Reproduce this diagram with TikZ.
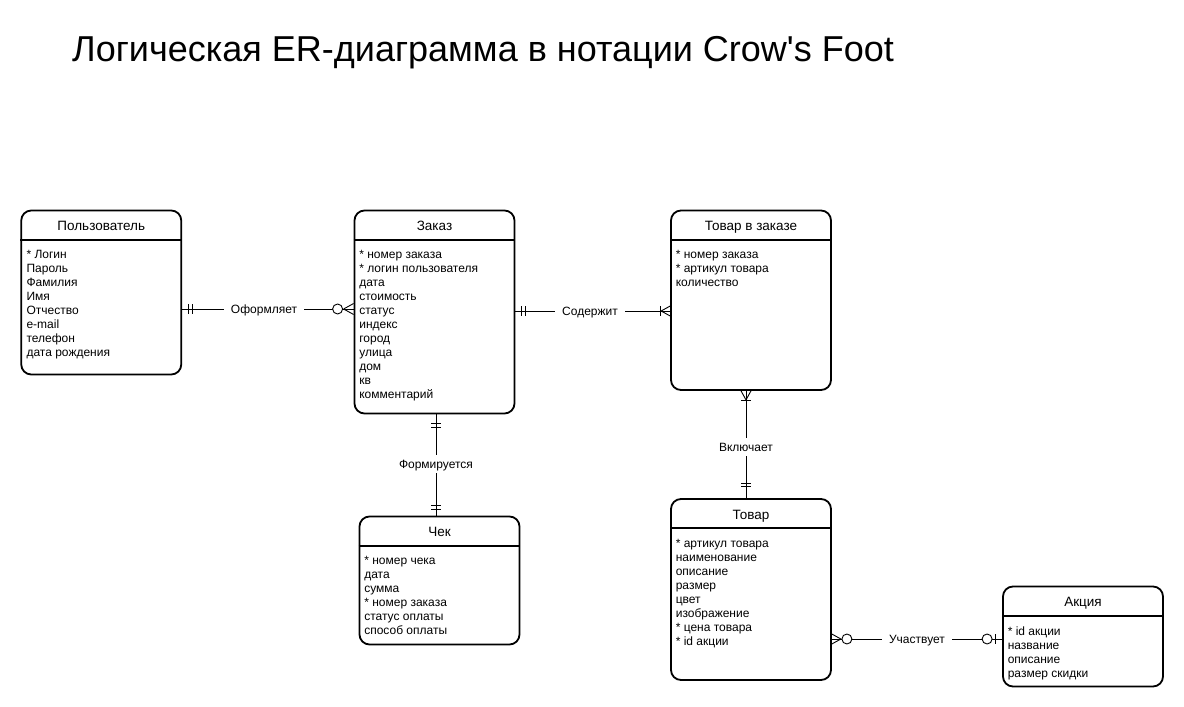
\documentclass[tikz,border=0pt]{standalone}
\usepackage{fontspec}
\setmainfont{Liberation Sans}[Ligatures=TeXOff]
\usetikzlibrary{positioning}

\tikzset{
  entity/.style={draw, line width=1.8pt, rounded corners=10pt, inner sep=0pt, minimum width=160pt},
  enttitle/.style={font=\fontsize{13.5}{16}\selectfont, inner sep=0pt, text height=10pt, text depth=2pt},
  entbody/.style={font=\fontsize{12}{14}\selectfont, align=left, inner sep=0pt, anchor=north west, execute at begin node=\strut},
  headline/.style={line width=1.8pt},
  rel/.style={font=\fontsize{12}{14}\selectfont, inner xsep=7pt, inner ysep=3pt, text height=10.5pt, text depth=1.5pt},
  link/.style={line width=0.9pt},
  bar/.pic={\draw[link] (0,-5) -- (0,5);},
  crow/.pic={\draw[link] (0,0) -- (10,5.5) (0,0) -- (10,-5.5);},
  ring/.pic={\draw[link, fill=white] (0,0) circle (5);}
}

\begin{document}
\begin{tikzpicture}[x=1pt, y=-1pt]
    \useasboundingbox (0,0) rectangle (1184,707);

    \node[anchor=base west, inner sep=0pt, font=\fontsize{36}{40}\selectfont] (title) at (72,61)
        {Логическая ER-диаграмма в нотации Crow's Foot};

    % entities
    \node[entity, minimum height=164pt] (usr) at (101.25,292.5) {};
    \node[entity, minimum height=203pt] (ord) at (434.5,312) {};
    \node[entity, minimum height=179.5pt] (item) at (751,300.25) {};
    \node[entity, minimum height=128pt] (check) at (439.5,580.5) {};
    \node[entity, minimum height=181pt] (prod) at (751,589.5) {};
    \node[entity, minimum height=100pt] (promo) at (1083,636.5) {};

    \foreach \e/\t in {usr/Пользователь, ord/Заказ, item/Товар в заказе,
                       check/Чек, prod/Товар, promo/Акция} {
        \draw[headline] ([yshift=-30pt]\e.north west) -- ([yshift=-30pt]\e.north east);
        \node[enttitle] (\e-title) at ([yshift=-17pt]\e.north) {\t};
    }

    \node[entbody] (usr-body) at ([xshift=6pt,yshift=-40.5pt]usr.north west)
        {* Логин\\Пароль\\Фамилия\\Имя\\Отчество\\e-mail\\телефон\\дата рождения};
    \node[entbody] (ord-body) at ([xshift=5.5pt,yshift=-40.5pt]ord.north west)
        {* номер заказа\\* логин пользователя\\дата\\стоимость\\статус\\индекс\\город\\улица\\дом\\кв\\комментарий};
    \node[entbody] (item-body) at ([xshift=5.5pt,yshift=-40.5pt]item.north west)
        {* номер заказа\\* артикул товара\\количество};
    \node[entbody] (check-body) at ([xshift=5.5pt,yshift=-40.5pt]check.north west)
        {* номер чека\\дата\\сумма\\* номер заказа\\статус оплаты\\способ оплаты};
    \node[entbody] (prod-body) at ([xshift=5.5pt,yshift=-40.5pt]prod.north west)
        {* артикул товара\\наименование\\описание\\размер\\цвет\\изображение\\* цена товара\\* id акции};
    \node[entbody] (promo-body) at ([xshift=5.5pt,yshift=-40.5pt]promo.north west)
        {* id акции\\название\\описание\\размер скидки};

    % relationships
    \node[rel] (r1) at (264,309) {Оформляет};
    \coordinate (r1a) at (usr.east |- r1);
    \coordinate (r1b) at (ord.west |- r1);
    \draw[link] (r1a) -- (r1.west) (r1.east) -- (r1b);
    \pic at ([xshift=6pt]r1a) {bar};
    \pic at ([xshift=10pt]r1a) {bar};
    \pic at ([xshift=-10pt]r1b) {crow};
    \pic at ([xshift=-16pt]r1b) {ring};

    \node[rel] (r2) at (590,311) {Содержит};
    \coordinate (r2a) at (ord.east |- r2);
    \coordinate (r2b) at (item.west |- r2);
    \draw[link] (r2a) -- (r2.west) (r2.east) -- (r2b);
    \pic at ([xshift=6pt]r2a) {bar};
    \pic at ([xshift=10.5pt]r2a) {bar};
    \pic at ([xshift=-9pt]r2b) {crow};
    \pic at ([xshift=-10pt]r2b) {bar};

    \node[rel] (r3) at (436,464) {Формируется};
    \coordinate (r3a) at (ord.south -| r3);
    \coordinate (r3b) at (check.north -| r3);
    \draw[link] (r3a) -- (r3.north) (r3.south) -- (r3b);
    \pic[rotate=90] at ([yshift=-9pt]r3a) {bar};
    \pic[rotate=90] at ([yshift=-13pt]r3a) {bar};
    \pic[rotate=90] at ([yshift=10.5pt]r3b) {bar};
    \pic[rotate=90] at ([yshift=6.5pt]r3b) {bar};

    \node[rel] (r4) at (746,447) {Включает};
    \coordinate (r4a) at (item.south -| r4);
    \coordinate (r4b) at (prod.north -| r4);
    \draw[link] (r4a) -- (r4.north) (r4.south) -- (r4b);
    \pic[rotate=90] at ([yshift=-9pt]r4a) {crow};
    \pic[rotate=90] at ([yshift=-10pt]r4a) {bar};
    \pic[rotate=90] at ([yshift=15pt]r4b) {bar};
    \pic[rotate=90] at ([yshift=11.5pt]r4b) {bar};

    \node[rel] (r5) at (917,639) {Участвует};
    \coordinate (r5a) at (prod.east |- r5);
    \coordinate (r5b) at (promo.west |- r5);
    \draw[link] (r5a) -- (r5.west) (r5.east) -- (r5b);
    \pic[rotate=180] at ([xshift=9pt]r5a) {crow};
    \pic at ([xshift=15pt]r5a) {ring};
    \pic at ([xshift=-15pt]r5b) {ring};
    \pic at ([xshift=-6.5pt]r5b) {bar};
\end{tikzpicture}
\end{document}
